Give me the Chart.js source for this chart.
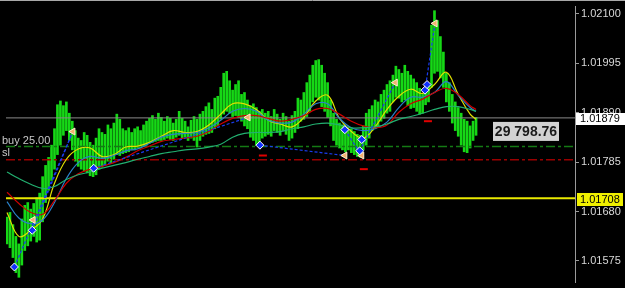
<!DOCTYPE html>
<html><head><meta charset="utf-8">
<script src="https://cdn.jsdelivr.net/npm/chart.js@4"></script>
<style>html,body{margin:0;padding:0;background:#000;overflow:hidden}#wrap{width:625px;height:288px;position:relative}</style>
</head><body><div id="wrap"><canvas id="c" width="625" height="288"></canvas></div>
<script>
// ---- data ----
const barHigh = [
1.01668,1.01678,1.01652,1.01627,1.01611,1.01664,1.01693,1.01699,1.01685,1.01697,
1.01709,1.01719,1.01754,1.01778,1.01795,1.01821,1.01856,1.01907,1.01915,1.01905,
1.01913,1.01889,1.01872,1.01852,1.01836,1.01831,1.01848,1.01842,1.01827,1.01821,
1.01836,1.01856,1.01848,1.01844,1.01864,1.01856,1.01868,1.01887,1.01876,1.01856,
1.01852,1.01858,1.01848,1.01856,1.01860,1.01852,1.01864,1.01872,1.01878,1.01884,
1.01876,1.01889,1.01880,1.01872,1.01882,1.01878,1.01868,1.01876,1.01893,1.01878,
1.01872,1.01860,1.01874,1.01882,1.01876,1.01887,1.01893,1.01903,1.01911,1.01897,
1.01921,1.01925,1.01944,1.01974,1.01978,1.01958,1.01938,1.01950,1.01958,1.01929,
1.01933,1.01917,1.01905,1.01909,1.01901,1.01893,1.01897,1.01889,1.01893,1.01882,
1.01897,1.01887,1.01876,1.01889,1.01882,1.01872,1.01884,1.01893,1.01921,1.01917,
1.01933,1.01954,1.01970,1.01991,1.02001,1.02003,1.01991,1.01974,1.01954,1.01917,
1.01889,1.01876,1.01868,1.01864,1.01860,1.01852,1.01856,1.01850,1.01844,1.01842,
1.01862,1.01889,1.01897,1.01905,1.01917,1.01913,1.01929,1.01938,1.01950,1.01958,
1.01970,1.01989,1.01982,1.01974,1.01991,1.01978,1.01970,1.01962,1.01954,1.01942,
1.01929,1.01944,1.01950,1.02076,1.02107,1.02086,1.02052,1.02019,1.01974,1.01954,
1.01929,1.01913,1.01901,1.01889,1.01876,1.01872,1.01862,1.01872,1.01880];
const barLow = [
1.01611,1.01603,1.01582,1.01550,1.01540,1.01566,1.01597,1.01607,1.01617,1.01627,
1.01615,1.01619,1.01658,1.01699,1.01725,1.01746,1.01770,1.01801,1.01821,1.01842,
1.01852,1.01831,1.01811,1.01787,1.01776,1.01770,1.01766,1.01762,1.01756,1.01754,
1.01758,1.01770,1.01774,1.01778,1.01787,1.01782,1.01791,1.01801,1.01799,1.01803,
1.01805,1.01807,1.01811,1.01811,1.01815,1.01815,1.01819,1.01821,1.01825,1.01827,
1.01829,1.01831,1.01831,1.01833,1.01836,1.01833,1.01831,1.01838,1.01842,1.01836,
1.01838,1.01831,1.01836,1.01831,1.01817,1.01831,1.01840,1.01844,1.01846,1.01848,
1.01856,1.01862,1.01876,1.01887,1.01893,1.01889,1.01882,1.01884,1.01880,1.01872,
1.01862,1.01856,1.01838,1.01831,1.01821,1.01823,1.01836,1.01840,1.01844,1.01840,
1.01852,1.01848,1.01842,1.01852,1.01844,1.01831,1.01836,1.01848,1.01856,1.01872,
1.01876,1.01882,1.01893,1.01913,1.01923,1.01917,1.01903,1.01893,1.01880,1.01862,
1.01831,1.01821,1.01815,1.01811,1.01807,1.01811,1.01805,1.01801,1.01797,1.01795,
1.01811,1.01821,1.01836,1.01852,1.01856,1.01862,1.01872,1.01878,1.01889,1.01893,
1.01913,1.01923,1.01921,1.01913,1.01917,1.01905,1.01899,1.01901,1.01893,1.01887,
1.01889,1.01907,1.01913,1.01944,1.01974,1.01978,1.01964,1.01944,1.01913,1.01893,
1.01868,1.01852,1.01840,1.01821,1.01807,1.01805,1.01815,1.01831,1.01842];

const maIndex = [0,4,8,12,16,20,24,28,32,36,40,44,48,52,56,60,64,68,72,76,80,84,88,92,96,100,104,108,112,116,120,124,128,132,136,140,144,148,152,156,158];
const maYellow = [1.01678,1.01627,1.01640,1.01664,1.01740,1.01791,1.01813,1.01815,1.01797,1.01801,1.01817,1.01819,1.01827,1.01840,1.01852,1.01848,1.01850,1.01864,1.01887,1.01909,1.01909,1.01897,1.01874,1.01866,1.01860,1.01880,1.01915,1.01927,1.01878,1.01850,1.01836,1.01860,1.01897,1.01925,1.01940,1.01931,1.01950,1.01976,1.01929,1.01887,1.01876];
const maBlue = [1.01701,1.01666,1.01654,1.01662,1.01699,1.01750,1.01784,1.01797,1.01793,1.01799,1.01809,1.01813,1.01825,1.01838,1.01844,1.01846,1.01848,1.01858,1.01874,1.01893,1.01899,1.01893,1.01874,1.01868,1.01870,1.01887,1.01909,1.01909,1.01878,1.01858,1.01852,1.01856,1.01870,1.01901,1.01923,1.01923,1.01933,1.01956,1.01927,1.01901,1.01893];
const maRed = [1.01721,1.01697,1.01678,1.01674,1.01703,1.01740,1.01760,1.01770,1.01776,1.01784,1.01795,1.01809,1.01819,1.01829,1.01833,1.01836,1.01840,1.01850,1.01866,1.01878,1.01884,1.01884,1.01878,1.01872,1.01876,1.01884,1.01897,1.01899,1.01887,1.01872,1.01862,1.01858,1.01864,1.01891,1.01909,1.01919,1.01933,1.01942,1.01929,1.01905,1.01897];
const maGreen = [1.01764,1.01750,1.01738,1.01729,1.01733,1.01748,1.01758,1.01764,1.01772,1.01778,1.01784,1.01791,1.01797,1.01803,1.01807,1.01811,1.01813,1.01817,1.01823,1.01838,1.01846,1.01848,1.01848,1.01850,1.01856,1.01860,1.01866,1.01868,1.01864,1.01858,1.01858,1.01860,1.01866,1.01876,1.01882,1.01889,1.01897,1.01903,1.01903,1.01897,1.01893];

const tradeOpenIdx = [2.5,8.5,29.2,85.2,113.8,118.8,140.8];
const tradeOpenPrice = [1.01562,1.01640,1.01772,1.01821,1.01854,1.01809,1.01938];
const tradeCloseIdx = [22.2,22.2,81.2,113.8,119.5,130.8,144.2];
const tradeClosePrice = [1.01850,1.01850,1.01880,1.01799,1.01799,1.01954,1.02080];
const buyMarkIdx = [2.5,8.5,29.2,85.2,113.8,118.8,119.5,140.8,141.5];
const buyMarkPrice = [1.01562,1.01640,1.01772,1.01821,1.01854,1.01809,1.01833,1.01938,1.01950];
const closeMarkIdx = [8.8,22.2,81.2,113.8,119.5,130.8,144.2];
const closeMarkPrice = [1.01662,1.01850,1.01880,1.01799,1.01799,1.01954,1.02080];
const stopMarkIdx = [86.2,120.2,141.8];
const stopMarkPrice = [1.01799,1.01770,1.01872];

const tickValues = [1.01575,1.01680,1.01785,1.01890,1.01995,1.02100];
const bidPrice = 1.01879;
const buyPrice = 1.01818;
const slPrice = 1.01790;
const levelPrice = 1.01708;
const buyLabel = 'buy 25.00';
const slLabel = 'sl';
const profitLabel = '29 798.76';

const Y_MIN = 1.01530, Y_MAX = 1.02117, X_MIN = -0.3333, X_MAX = 191.3333;

// ---- build datasets ----
const bars = barHigh.map((h,i)=>({x:i, y:[barLow[i], h]}));
const ma = arr => maIndex.map((x,k)=>({x, y:arr[k]}));
const hline = p => [{x:X_MIN,y:p},{x:X_MAX,y:p}];
const trades = [];
tradeOpenIdx.forEach((x,k)=>{
  trades.push({x, y:tradeOpenPrice[k]});
  trades.push({x:tradeCloseIdx[k], y:tradeClosePrice[k]});
  trades.push({x:tradeCloseIdx[k]+0.01, y:null});
});
const pts = (xs, ys) => xs.map((x,k)=>({x, y:ys[k]}));

Chart.defaults.font.family = "'Liberation Sans', Arial, sans-serif";

const overlay = {
  id:'overlay',
  afterDraw(chart){
    const ctx = chart.ctx, ys = chart.scales.y;
    ctx.save();
    ctx.strokeStyle = '#a8a8a8'; ctx.lineWidth = 1;
    ctx.beginPath(); ctx.moveTo(0,0.5); ctx.lineTo(625,0.5); ctx.stroke();
    ctx.fillStyle = '#c8c8c8'; ctx.font = "11px 'Liberation Sans'";
    ctx.textBaseline = 'middle'; ctx.textAlign = 'left';
    ctx.fillText(buyLabel, 2, ys.getPixelForValue(buyPrice) - 6);
    ctx.fillText(slLabel, 2, ys.getPixelForValue(slPrice) - 7);
    const yb = ys.getPixelForValue(bidPrice);
    ctx.fillStyle = '#d2d2d2'; ctx.fillRect(493, yb + 4, 66, 19);
    ctx.fillStyle = '#1a1a1a'; ctx.font = "bold 14px 'Liberation Sans'";
    ctx.textAlign = 'center';
    ctx.fillText(profitLabel, 526, yb + 14);
    ctx.fillStyle = '#ffffff'; ctx.fillRect(576, Math.round(yb) - 5, 49, 12);
    ctx.fillStyle = '#000000'; ctx.font = "11px 'Liberation Sans'"; ctx.textAlign = 'left';
    ctx.fillText(bidPrice.toFixed(5), 580, Math.round(yb) + 1);
    const yl = ys.getPixelForValue(levelPrice);
    ctx.fillStyle = '#f0f000'; ctx.fillRect(577, Math.round(yl) - 5, 46, 13);
    ctx.fillStyle = '#000000';
    ctx.fillText(levelPrice.toFixed(5), 580, Math.round(yl) + 2);
    ctx.restore();
  }
};

new Chart(document.getElementById('c'), {
  type:'bar',
  data:{ datasets:[
    {type:'bar', data:bars, backgroundColor:'#16d816', borderWidth:0, barThickness:2, order:10},
    {type:'line', data:hline(bidPrice), borderColor:'#8a8a8a', borderWidth:1, pointRadius:0, order:8},
    {type:'line', data:hline(buyPrice), borderColor:'#147a14', borderWidth:1.5, borderDash:[9,3,3,3], pointRadius:0, order:8},
    {type:'line', data:hline(slPrice), borderColor:'#9a0000', borderWidth:1.5, borderDash:[9,3,3,3], pointRadius:0, order:8},
    {type:'line', data:hline(levelPrice), borderColor:'#e8e800', borderWidth:2, pointRadius:0, order:8},
    {type:'line', data:ma(maGreen), borderColor:'#22b070', borderWidth:1.2, pointRadius:0, tension:0.4, order:5},
    {type:'line', data:ma(maRed), borderColor:'#cc0000', borderWidth:1.2, pointRadius:0, tension:0.4, order:5},
    {type:'line', data:ma(maBlue), borderColor:'#2a80c8', borderWidth:1.2, pointRadius:0, tension:0.4, order:5},
    {type:'line', data:ma(maYellow), borderColor:'#e0e000', borderWidth:1.2, pointRadius:0, tension:0.4, order:5},
    {type:'line', data:trades, borderColor:'#1a3cf0', borderWidth:1.2, borderDash:[3,2], pointRadius:0, spanGaps:false, order:3},
    {type:'line', data:pts(stopMarkIdx, stopMarkPrice), showLine:false, pointStyle:'line', pointRadius:4, pointBorderColor:'#e00000', pointBorderWidth:2, order:2},
    {type:'line', data:pts(closeMarkIdx, closeMarkPrice), showLine:false, pointStyle:'triangle', rotation:-90, pointRadius:4, pointBackgroundColor:'#f3b070', pointBorderColor:'#fff0d0', pointBorderWidth:1, order:1},
    {type:'line', data:pts(buyMarkIdx, buyMarkPrice), showLine:false, pointStyle:'rectRot', pointRadius:4, pointBackgroundColor:'#1030ff', pointBorderColor:'#ffffff', pointBorderWidth:1, order:0}
  ]},
  options:{
    responsive:false, animation:false, devicePixelRatio:1,
    layout:{padding:0},
    plugins:{legend:{display:false}, tooltip:{enabled:false}},
    scales:{
      x:{type:'linear', min:X_MIN, max:X_MAX, display:false, offset:false, grid:{offset:false}},
      y:{position:'right', min:Y_MIN, max:Y_MAX,
         afterBuildTicks(s){ s.ticks = tickValues.map(v=>({value:v})); },
         afterFit(s){ s.width = 50; s.paddingTop = 0; s.paddingBottom = 0; },
         ticks:{color:'#d8d8d8', font:{size:11}, padding:2, callback:v=>Number(v).toFixed(5)},
         grid:{drawOnChartArea:false, drawTicks:true, tickLength:4, tickColor:'#9a9a9a'},
         border:{display:true, color:'#9a9a9a'}
      }
    }
  },
  plugins:[overlay]
});
</script></body></html>
